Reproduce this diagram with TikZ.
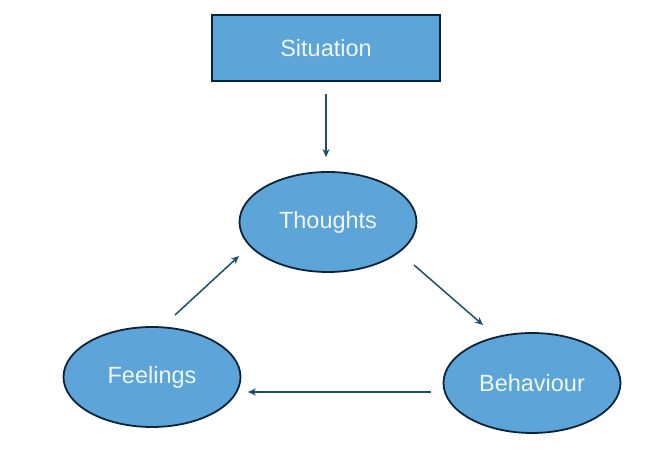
\documentclass[tikz,border=0pt]{standalone}
\usepackage{fontspec}
\setmainfont{Liberation Sans}
\usetikzlibrary{shapes.geometric,arrows.meta}
\definecolor{boxfill}{HTML}{5DA4D8}
\definecolor{boxline}{HTML}{0C2437}
\definecolor{arrcol}{HTML}{1F4E68}
\definecolor{txt}{HTML}{EEF7FC}
\begin{document}
\begin{tikzpicture}[x=1pt,y=1pt,
  shapebox/.style={draw=boxline,line width=1.8pt,fill=boxfill,text=txt,font=\fontsize{23.5}{26}\selectfont,inner sep=0pt},
  rectbox/.style={shapebox,rectangle,minimum width=228pt,minimum height=66pt},
  ellbox/.style={shapebox,ellipse,minimum width=177pt,minimum height=100pt},
  arr/.style={draw=arrcol,line width=1.5pt,-{Stealth[length=8pt,width=7pt]}}]
\useasboundingbox[fill=white] (0,0) rectangle (657,462);
\node[rectbox] (sit) at (326,414) {Situation};
\node[ellbox] (th) at (328,240) {Thoughts};
\node[ellbox] (fe) at (152,85) {Feelings};
\node[ellbox] (be) at (532,79) {Behaviour};
\coordinate (a1) at (414,197);
\coordinate (a2) at (483,137);
\coordinate (b1) at (431,70);
\coordinate (b2) at (248,70);
\coordinate (c1) at (175,147);
\coordinate (c2) at (239,206);
\draw[arr,shorten <=12pt,shorten >=14pt] (sit.south) -- (sit.south |- th.north);
\draw[arr] (a1) -- (a2);
\draw[arr] (b1) -- (b2);
\draw[arr] (c1) -- (c2);
\end{tikzpicture}
\end{document}
